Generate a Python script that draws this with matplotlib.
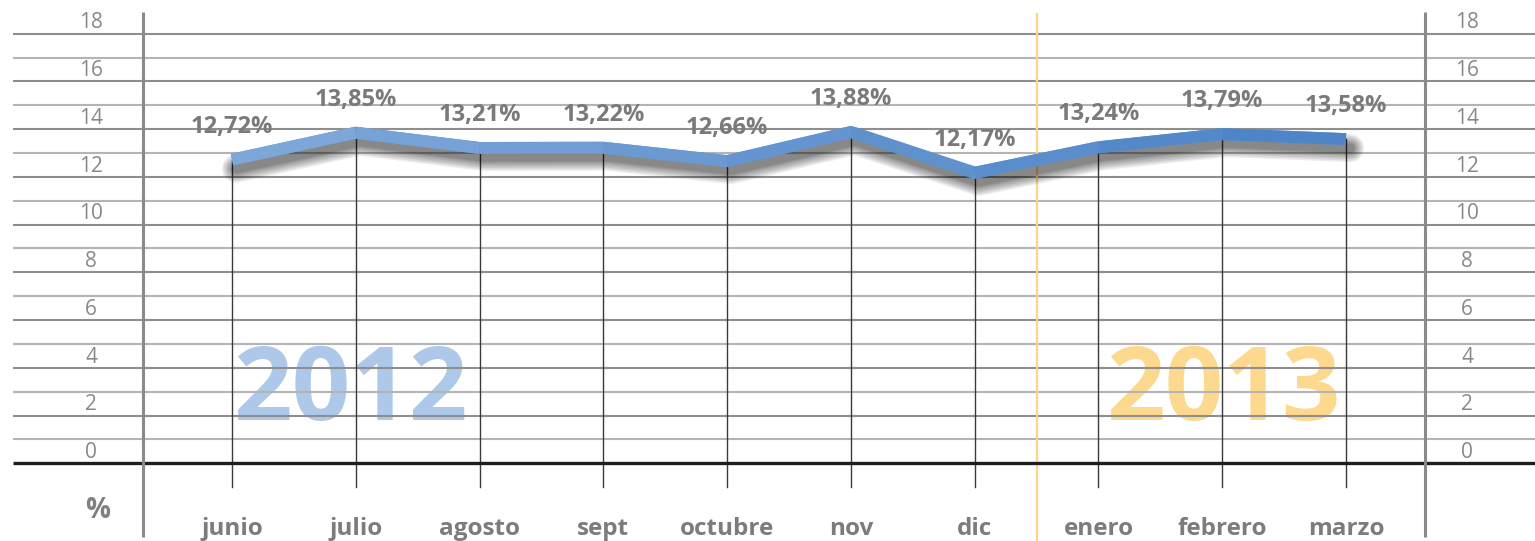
import matplotlib
matplotlib.use("Agg")
import matplotlib.pyplot as plt
import numpy as np
from matplotlib.collections import LineCollection
from matplotlib import transforms
from matplotlib.colors import to_rgb

# ---- data ----
categories = ["junio", "julio", "agosto", "sept", "octubre", "nov", "dic",
              "enero", "febrero", "marzo"]
values = [12.72, 13.85, 13.21, 13.22, 12.66, 13.88, 12.17, 13.24, 13.79, 13.58]
y_ticks = [0, 2, 4, 6, 8, 10, 12, 14, 16, 18]
year_labels = ["2012", "2013"]
unit_label = "%"

# ---- figure ----
W, H = 1535, 541
fig = plt.figure(figsize=(W / 100, H / 100), dpi=100)
ax = fig.add_axes([0, 0, 1, 1])
ax.set_axis_off()

px_x = 123.78   # pixels per category
px_y = 23.87    # pixels per unit
x0_px = 232.0   # pixel position of first category
y0_px = 463.3   # pixel (from top) of value 0

ax.set_xlim(-x0_px / px_x, (W - x0_px) / px_x)
ax.set_ylim(-(H - y0_px) / px_y, y0_px / px_y)

def xp(p):  # pixel -> data x
    return (p - x0_px) / px_x

def yp(p):  # pixel(from top) -> data y
    return (y0_px - p) / px_y

FONT = "Open Sans"
x = np.arange(len(categories))

# year labels (behind grid)
ax.text(xp(350), yp(420), year_labels[0], ha="center", va="baseline",
        fontsize=74, fontweight="bold", color="#adc8e8", family=FONT, zorder=0)
ax.text(xp(1223), yp(420), year_labels[1], ha="center", va="baseline",
        fontsize=74, fontweight="bold", color="#fdd98f", family=FONT, zorder=0)

# horizontal grid lines
for v in range(1, 19):
    col = "#8e8e8e" if v % 2 == 0 else "#b4b4b4"
    ax.plot([xp(13), xp(W + 5)], [v, v], color=col, lw=1.5, zorder=1,
            solid_capstyle="butt")
# baseline
ax.plot([xp(13), xp(W + 5)], [0, 0], color="#1e1e1e", lw=2.4, zorder=3,
        solid_capstyle="butt")

# separator between years
ax.plot([6.5, 6.5], [yp(14), yp(H + 5)], color="#fdd58a", lw=1.6, zorder=2)

# side axes
for xa in (xp(143), xp(1425)):
    ax.plot([xa, xa], [yp(12), yp(537)], color="#8a8a8a", lw=2.2, zorder=3,
            solid_capstyle="butt")

# category drop lines
for xi, v in zip(x, values):
    ax.plot([xi, xi], [v, -1.0], color="#3a3a3a", lw=1.0, zorder=2)

# tick labels both sides
for t in y_ticks:
    for xl in (xp(91), xp(1467)):
        ax.text(xl, t + 0.45, str(t), ha="center", va="center", fontsize=15,
                color="#888888", family=FONT, zorder=4)

# unit label
ax.text(xp(98), yp(510), unit_label, ha="center", va="center", fontsize=20,
        fontweight="bold", color="#808080", family=FONT, zorder=4)

# category labels
for xi, c in zip(x, categories):
    ax.text(xi, yp(535), c, ha="center", va="baseline", fontsize=17.5,
            fontweight="bold", color="#7c7c7c", family=FONT, zorder=4)

# blurred drop shadow of the line
tr = transforms.offset_copy(ax.transData, fig=fig, x=4, y=-9, units="dots")
for lw in [28, 25, 22, 19, 16, 13, 11, 9]:
    ax.plot(x, values, color="#000000", alpha=0.075, lw=lw * 0.72,
            transform=tr, zorder=5, solid_joinstyle="round",
            solid_capstyle="round")

# main line with gradient
c_left = np.array(to_rgb("#80a8da"))
c_right = np.array(to_rgb("#4a83c5"))
ax.plot(x, values, color="#6796cf", lw=8.6, zorder=6,
        solid_joinstyle="miter", solid_capstyle="butt")
segs = [[(x[i], values[i]), (x[i + 1], values[i + 1])] for i in range(len(x) - 1)]
cols = [c_left + (c_right - c_left) * (i + 0.5) / (len(segs)) for i in range(len(segs))]
lc = LineCollection(segs, colors=cols, linewidths=8.6, zorder=7,
                    capstyle="butt", joinstyle="miter")
ax.add_collection(lc)

# data labels
for xi, v in zip(x, values):
    ax.annotate(f"{v:.2f}".replace(".", ",") + "%", (xi, v), xytext=(0, 33),
                textcoords="offset pixels", ha="center", va="center",
                fontsize=17, fontweight="bold", color="#7a7a7a", family=FONT,
                zorder=8)

fig.savefig("out.png", dpi=100)
